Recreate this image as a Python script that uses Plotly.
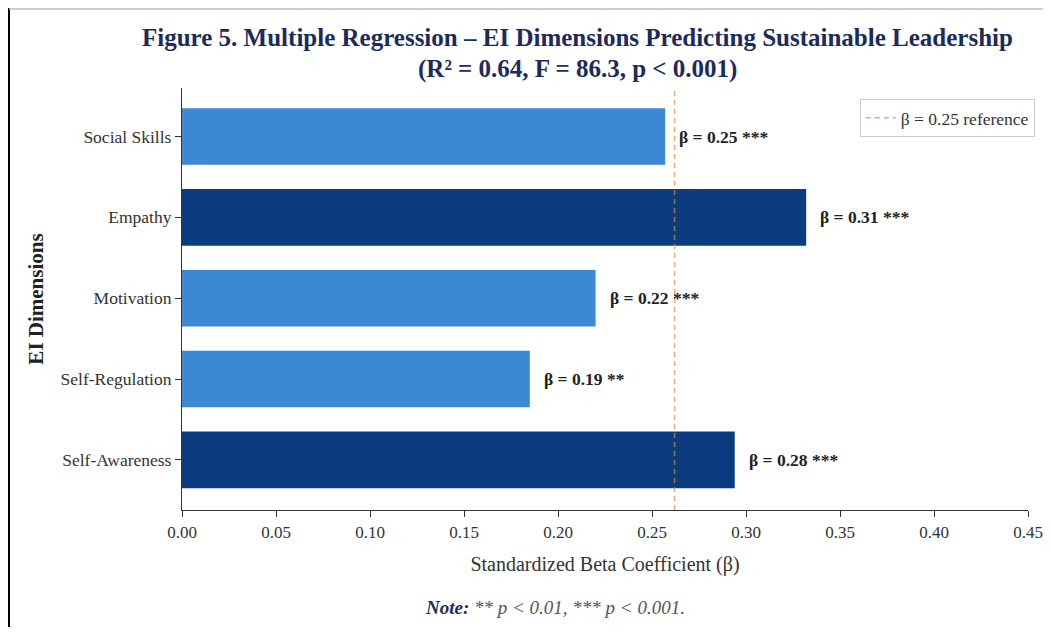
import plotly.graph_objects as go

# Data (top-to-bottom reading order)
categories = ["Social Skills", "Empathy", "Motivation", "Self-Regulation", "Self-Awareness"]
beta_values = [0.257, 0.332, 0.220, 0.185, 0.294]
beta_labels = ["β = 0.25 ***", "β = 0.31 ***", "β = 0.22 ***", "β = 0.19 **", "β = 0.28 ***"]
reference_value = 0.262
reference_name = "β = 0.25 reference"
x_ticks = [0.00, 0.05, 0.10, 0.15, 0.20, 0.25, 0.30, 0.35, 0.40, 0.45]

# plotting order: bottom to top
cats_bt = categories[::-1]
vals_bt = beta_values[::-1]
labs_bt = beta_labels[::-1]

DARK = "#0c3c80"
LIGHT = "#3d88d2"
colors = [DARK if v > reference_value else LIGHT for v in vals_bt]

SERIF = "Liberation Serif, Times New Roman, serif"
YR = [-0.62, 4.6]

fig = go.Figure()
fig.add_trace(go.Bar(
    x=vals_bt, y=cats_bt, orientation="h",
    marker=dict(color=colors, line=dict(width=0)),
    width=0.7, showlegend=False, hoverinfo="x+y",
))
fig.add_trace(go.Scatter(
    x=[reference_value, reference_value], y=YR,
    mode="lines", name=reference_name,
    line=dict(color="rgba(232,132,45,0.7)", width=1.5, dash="5px,4px"),
    yaxis="y2",
))

for c, v, t in zip(cats_bt, vals_bt, labs_bt):
    fig.add_annotation(x=v + 0.0065, y=c, text="<b>" + t + "</b>", showarrow=False,
                       xanchor="left", yanchor="middle",
                       font=dict(family=SERIF, size=17.5, color="#222222"))

# Title lines
fig.add_annotation(xref="paper", yref="paper", x=0.468, y=1.0, yshift=51,
                   text="<b>Figure 5. Multiple Regression – EI Dimensions Predicting Sustainable Leadership</b>",
                   showarrow=False, xanchor="center", yanchor="middle",
                   font=dict(family=SERIF, size=25, color="#1c2b5e"))
fig.add_annotation(xref="paper", yref="paper", x=0.468, y=1.0, yshift=19,
                   text="<b>(R² = 0.64, F = 86.3, p < 0.001)</b>",
                   showarrow=False, xanchor="center", yanchor="middle",
                   font=dict(family=SERIF, size=25, color="#1c2b5e"))
# Note
fig.add_annotation(xref="paper", yref="paper", x=0.441, y=0, yshift=-97,
                   text="<b><i><span style='color:#1c2b5e'>Note:</span></i></b><i> ** p &lt; 0.01, *** p &lt; 0.001.</i>",
                   showarrow=False, xanchor="center", yanchor="middle",
                   font=dict(family=SERIF, size=19, color="#555555"))

# Frame lines (border of the picture)
fig.add_shape(type="line", xref="paper", yref="paper", x0=-0.2045, x1=-0.2045, y0=1.19, y1=-0.31,
              line=dict(color="black", width=2))
fig.add_shape(type="line", xref="paper", yref="paper", x0=-0.2045, x1=1.05, y0=1.187, y1=1.187,
              line=dict(color="#bbbbbb", width=1.5))

fig.update_layout(
    width=1035, height=619,
    margin=dict(l=174, r=15, t=80, b=117, autoexpand=False),
    paper_bgcolor="white", plot_bgcolor="white",
    font=dict(family=SERIF, size=17, color="#333333"),
    xaxis=dict(
        range=[0, 0.45], tickvals=x_ticks, ticktext=[f"{t:.2f}" for t in x_ticks],
        automargin=False,
        showgrid=False, zeroline=False, showline=True, linecolor="#333333", linewidth=1.2,
        ticks="outside", ticklen=6, tickcolor="#333333",
        tickfont=dict(family=SERIF, size=17, color="#333333"),
        title=dict(text="Standardized Beta Coefficient (β)", standoff=16,
                   font=dict(family=SERIF, size=20, color="#333333")),
    ),
    yaxis=dict(
        categoryorder="array", categoryarray=cats_bt, range=YR,
        automargin=False,
        showgrid=False, zeroline=False, showline=True, linecolor="#333333", linewidth=1.2,
        ticks="outside", ticklen=6, tickcolor="#333333",
        tickfont=dict(family=SERIF, size=17.5, color="#333333"),
        title=dict(text="<b>EI Dimensions</b>", standoff=11,
                   font=dict(family=SERIF, size=21, color="#222222")),
    ),
    yaxis2=dict(range=YR, overlaying="y", visible=False),
    legend=dict(x=1.008, y=0.974, xanchor="right", yanchor="top",
                bgcolor="white", bordercolor="#cccccc", borderwidth=1,
                font=dict(family=SERIF, size=17.5, color="#333333")),
)

fig.write_html("out.html")
